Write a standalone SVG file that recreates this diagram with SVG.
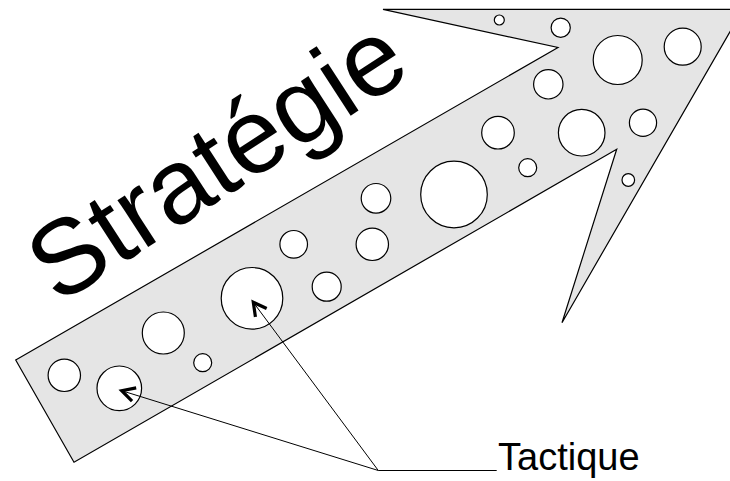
<svg xmlns="http://www.w3.org/2000/svg" width="730" height="481" viewBox="0 0 730 481">
<style>
.arrow{fill:#e5e5e5;stroke:#000;stroke-width:1.2;stroke-linejoin:miter}
.hole{fill:#fff;stroke:#000;stroke-width:1.2}
.conn{fill:none;stroke:#000;stroke-width:1}
.title{font-family:"Liberation Sans",Arial,sans-serif;fill:#000}
</style>
<defs>
<marker id="open" markerUnits="userSpaceOnUse" markerWidth="30" markerHeight="30" viewBox="-5 -15 30 30" refX="0" refY="0" orient="auto">
<path d="M13,-7 L0,0 L13,7" fill="none" stroke="#000" stroke-width="3.2"/>
</marker>
</defs>
<rect width="730" height="481" fill="#fff"/>
<g id="arrow">
<polygon class="arrow" points="15.7,360 558,47.5 383,9.3 743,9.3 562,322.7 616.7,149.3 74,462.3"/>
<circle class="hole" cx="499.3" cy="20" r="5"/>
<circle class="hole" cx="560.7" cy="27.7" r="9.6"/>
<circle class="hole" cx="617.7" cy="60" r="24.5"/>
<circle class="hole" cx="682.7" cy="46.7" r="18.5"/>
<circle class="hole" cx="548.3" cy="84.3" r="14.7"/>
<circle class="hole" cx="498" cy="132.7" r="16.3"/>
<circle class="hole" cx="581.7" cy="132.7" r="23.3"/>
<circle class="hole" cx="643" cy="122.7" r="13.6"/>
<circle class="hole" cx="527.7" cy="167.7" r="9"/>
<circle class="hole" cx="628.3" cy="180" r="6.3"/>
<circle class="hole" cx="454" cy="194.5" r="33.3"/>
<circle class="hole" cx="376" cy="198.3" r="14.8"/>
<circle class="hole" cx="293.7" cy="244.3" r="13.8"/>
<circle class="hole" cx="372.3" cy="244.3" r="16.2"/>
<circle class="hole" cx="326.7" cy="286.7" r="14.5"/>
<circle class="hole" cx="252" cy="298.3" r="30.8"/>
<circle class="hole" cx="163.3" cy="333" r="21"/>
<circle class="hole" cx="202.7" cy="362.7" r="9"/>
<circle class="hole" cx="64.3" cy="375.3" r="16.2"/>
<circle class="hole" cx="119.3" cy="388.3" r="22.3"/>
</g>
<g id="strategie">
<text class="title" font-size="106" text-anchor="middle" transform="translate(236,190) rotate(-33)">Stratégie</text>
</g>
<g id="tactique">
<text class="title" font-size="38" x="498" y="469.5">Tactique</text>
</g>
<g id="connectors">
<path class="conn" marker-start="url(#open)" d="M121.7,390.7 L378.3,470.5 L496.7,470.5"/>
<path class="conn" marker-start="url(#open)" d="M253.3,302.3 L378.3,470.5"/>
</g>
</svg>
